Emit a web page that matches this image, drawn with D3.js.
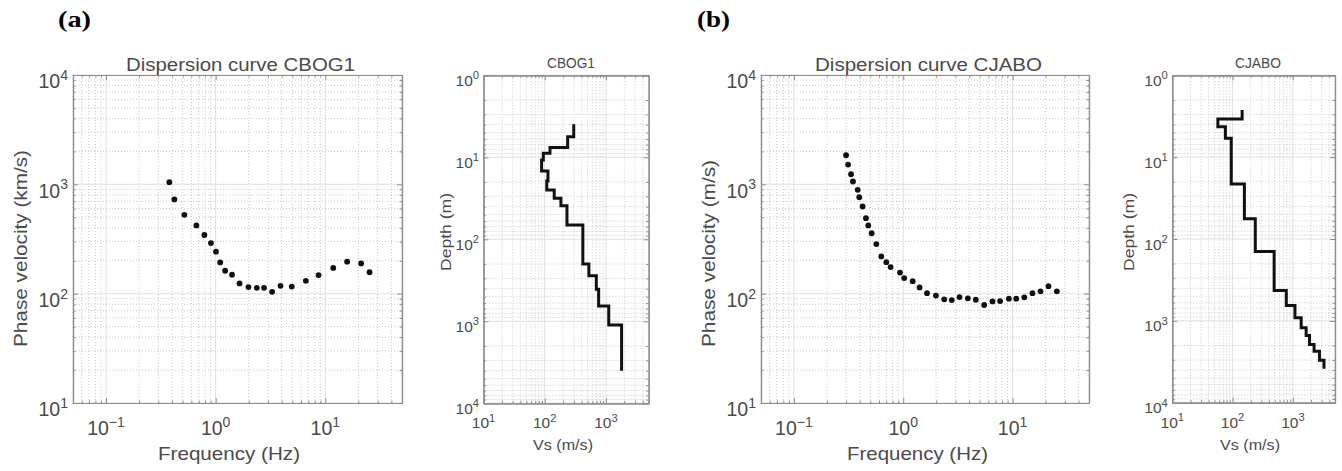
<!DOCTYPE html>
<html>
<head>
<meta charset="utf-8">
<script src="https://cdn.jsdelivr.net/npm/d3@7"></script>
<style>
  body { margin: 0; background: #fff; }
  svg { display: block; font-family: 'Liberation Sans', Arial, sans-serif; }
</style>
</head>
<body>
<svg id="chart" width="1342" height="471"></svg>
<script>
// dispersion curve CBOG1 : frequency (Hz) / phase velocity
const cbogFreq = [0.378, 0.42, 0.518, 0.667, 0.789, 0.906, 1.006, 1.10, 1.22, 1.41, 1.65, 1.99,
  2.37, 2.76, 3.27, 3.90, 4.94, 6.64, 8.67, 11.8, 15.8, 21.2, 25.3]
const cbogVel = [1047, 727, 526, 421, 344, 290, 242, 193, 162, 149, 124, 115,
  113, 113, 104, 118, 116, 131, 148, 172, 196, 189, 157]

// dispersion curve CJABO
const cjaboFreq = [0.30, 0.313, 0.333, 0.347, 0.383, 0.396, 0.425, 0.456, 0.479, 0.514,
  0.567, 0.63, 0.70, 0.766, 0.933, 1.02, 1.22, 1.41, 1.65, 1.99,
  2.37, 2.78, 3.27, 3.90, 4.61, 5.5, 6.55, 7.69, 9.25, 10.8,
  12.8, 15.2, 18.0, 21.3, 25.4]
const cjaboVel = [1845, 1517, 1236, 1061, 891, 762, 627, 490, 421, 357,
  284, 219, 194, 175, 156, 139, 130, 114, 101, 96,
  88.7, 87.4, 93, 90.6, 88, 78.8, 85, 85.6, 90, 90,
  92.5, 101, 105, 117, 105]

// Vs profiles : one Vs per layer, layer boundaries in depth (m)
const cbogVs = [298, 237, 122, 95, 89, 113, 108, 143, 184, 231, 420, 527, 697, 760, 1112, 1803]
const cbogDepth = [3.96, 5.6, 7.6, 8.9, 10.8, 14.7, 19.4, 25, 31.6, 39, 67, 200, 278, 407, 651, 1112, 4000]
const cjaboVs = [144, 57, 76, 95, 157, 238, 489, 778, 1083, 1374, 1660, 1888, 2249, 2761, 3283]
const cjaboDepth = [2.65, 3.41, 4.24, 5.86, 21.3, 56.5, 142, 427, 650, 919, 1217, 1511, 1945, 2349, 3020, 3846]

// axis limits
const freqLim = [0.05, 50]
const velLim = [10, 1e4]
const vsLim = [10, 5000]
const depthLim = [1, 1e4]

const svg = d3.select('#chart')
const textColor = '#4a4a4a'
const axisColor = '#8c8c8c'

const isMajor = v => Math.abs(Math.log10(v) - Math.round(Math.log10(v))) < 1e-6

function label(txt, x, y, size, len, rotate) {
  const t = svg.append('text')
    .attr('x', x).attr('y', y)
    .attr('font-size', size)
    .attr('text-anchor', 'middle')
    .attr('fill', textColor)
    .text(txt)
  if(len) t.attr('textLength', len).attr('lengthAdjust', 'spacingAndGlyphs')
  if(rotate) t.attr('transform', `rotate(-90 ${x} ${y})`)
  return t
}

function powLabel(g, v, x, y, size, anchor) {
  const e = Math.round(Math.log10(v))
  const t = g.append('text')
    .attr('x', x).attr('y', y)
    .attr('font-size', size)
    .attr('text-anchor', anchor)
    .attr('fill', textColor)
  t.append('tspan').text('10')
  t.append('tspan')
    .attr('font-size', size * 0.72)
    .attr('dy', -size * 0.42)
    .text(e < 0 ? '\u2212' + (-e) : e)
}

function panel(p) {
  const [l, t, r, b] = p.box
  const x = d3.scaleLog().domain(p.xDomain).range([l, r])
  const y = d3.scaleLog().domain(p.yDomain).range(p.flipY ? [t, b] : [b, t])
  const g = svg.append('g')

  const xt = x.ticks(), yt = y.ticks()

  // grid
  const grid = g.append('g')
  grid.selectAll('.gx').data(xt).join('line')
    .attr('x1', d => x(d)).attr('x2', d => x(d))
    .attr('y1', t).attr('y2', b)
    .attr('stroke', d => isMajor(d) ? '#e0e0e0' : '#c9c9c9')
    .attr('stroke-dasharray', d => isMajor(d) ? null : '1,2')
  grid.selectAll('.gy').data(yt).join('line')
    .attr('y1', d => y(d)).attr('y2', d => y(d))
    .attr('x1', l).attr('x2', r)
    .attr('stroke', d => isMajor(d) ? '#e0e0e0' : '#c9c9c9')
    .attr('stroke-dasharray', d => isMajor(d) ? null : '1,2')

  // box with inward ticks on all sides
  const sides = [
    [d3.axisBottom(x), `translate(0,${b})`, xt],
    [d3.axisTop(x), `translate(0,${t})`, xt],
    [d3.axisLeft(y), `translate(${l},0)`, yt],
    [d3.axisRight(y), `translate(${r},0)`, yt]
  ]
  sides.forEach(([axis, tr, ticks]) => {
    [[ticks.filter(isMajor), -5], [ticks.filter(d => !isMajor(d)), -2.5]].forEach(([vals, size]) => {
      const a = g.append('g')
        .attr('transform', tr)
        .call(axis.tickValues(vals).tickSizeInner(size).tickSizeOuter(0).tickFormat(''))
      a.select('.domain').attr('stroke', axisColor).attr('stroke-width', 1.2)
      a.selectAll('.tick line').attr('stroke', axisColor)
    })
  })

  // tick labels
  const f = p.tickFont
  xt.filter(isMajor).forEach(v => powLabel(g, v, x(v), b + p.xLabelGap, f, 'middle'))
  yt.filter(isMajor).forEach(v => powLabel(g, v, l - p.yLabelGap, y(v) + f * 0.68, f, 'end'))

  return {x, y, g}
}

function dispersion(p, freq, vel) {
  const {x, y, g} = panel(p)
  g.append('g').selectAll('circle')
    .data(freq.map((f, i) => [f, vel[i]]))
    .join('circle')
    .attr('cx', d => x(d[0]))
    .attr('cy', d => y(d[1]))
    .attr('r', 2.9)
    .attr('fill', '#111')
}

function profile(p, vs, depth) {
  const {x, y, g} = panel(p)
  const pts = []
  vs.forEach((v, i) => {
    pts.push([v, depth[i]], [v, depth[i + 1]])
  })
  g.append('path')
    .datum(pts)
    .attr('fill', 'none')
    .attr('stroke', '#111')
    .attr('stroke-width', 3)
    .attr('stroke-linejoin', 'miter')
    .attr('d', d3.line().x(d => x(d[0])).y(d => y(d[1])))
}

const dispStyle = {xDomain: freqLim, yDomain: velLim, flipY: false, tickFont: 19.5, xLabelGap: 32, yLabelGap: 5}
const profStyle = {xDomain: vsLim, yDomain: depthLim, flipY: true, tickFont: 15.5, xLabelGap: 25, yLabelGap: 4.5}

dispersion({...dispStyle, box: [73, 75, 402, 403]}, cbogFreq, cbogVel)
profile({...profStyle, box: [483.5, 75.3, 648.7, 403.3]}, cbogVs, cbogDepth)
dispersion({...dispStyle, box: [761, 75, 1089, 403]}, cjaboFreq, cjaboVel)
profile({...profStyle, box: [1172.3, 75.3, 1335, 402.7]}, cjaboVs, cjaboDepth)

// titles and axis labels
label('Dispersion curve CBOG1', 240.5, 71, 17.5, 229)
label('Frequency (Hz)', 229, 460, 18.5, 142)
label('Phase velocity (km/s)', 27, 248.5, 18.5, 197, true)

label('CBOG1', 571, 67.5, 15, 48)
label('Vs (m/s)', 563, 450, 15.5, 60)
label('Depth (m)', 451, 232, 15.5, 78, true)

label('Dispersion curve CJABO', 928.5, 71, 17.5, 227)
label('Frequency (Hz)', 917.5, 460, 18.5, 141)
label('Phase velocity (m/s)', 715, 253.5, 18.5, 187, true)

label('CJABO', 1258, 67.5, 15, 46)
label('Vs (m/s)', 1250, 450, 15.5, 60)
label('Depth (m)', 1134, 232, 15.5, 78, true)

// panel letters
svg.selectAll('.letter')
  .data([['(a)', 58], ['(b)', 697]])
  .join('text')
  .attr('x', d => d[1])
  .attr('y', 27)
  .attr('font-family', "'Liberation Serif', 'Times New Roman', serif")
  .attr('font-weight', 'bold')
  .attr('font-size', 24)
  .attr('textLength', 33)
  .attr('lengthAdjust', 'spacingAndGlyphs')
  .text(d => d[0])
</script>
</body>
</html>
